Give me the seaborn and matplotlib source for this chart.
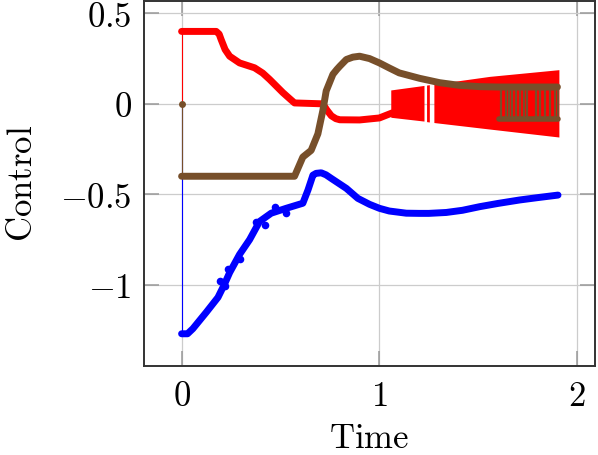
import matplotlib
matplotlib.use("Agg")
import matplotlib.pyplot as plt
import matplotlib.ticker as mticker
import numpy as np
import pandas as pd
import seaborn as sns

# Values
red_t = [0.0, 0.0, 0.175, 0.19, 0.20, 0.22, 0.243, 0.293, 0.369, 0.41, 0.445, 0.512,
         0.55, 0.571, 0.714, 0.735, 0.757, 0.78, 0.80, 0.90, 1.0, 1.065]
red_v = [0.0, 0.40, 0.40, 0.385, 0.355, 0.30, 0.263, 0.226, 0.199, 0.17, 0.135, 0.062,
         0.025, 0.005, 0.0, -0.035, -0.066, -0.082, -0.088, -0.089, -0.078, -0.05]

brown_t = [0.0, 0.0, 0.571, 0.613, 0.655, 0.689, 0.714, 0.731, 0.765, 0.785, 0.80,
           0.833, 0.866, 0.90, 0.95, 1.0, 1.05, 1.10, 1.203, 1.304, 1.405, 1.507,
           1.60, 1.75, 1.90]
brown_v = [0.0, -0.40, -0.40, -0.294, -0.257, -0.166, -0.038, 0.071, 0.163, 0.19,
           0.208, 0.245, 0.258, 0.263, 0.250, 0.226, 0.198, 0.171, 0.141, 0.117,
           0.102, 0.095, 0.093, 0.093, 0.093]

blue_t = [0.0, 0.0, 0.03, 0.057, 0.125, 0.184, 0.217, 0.243, 0.293, 0.344, 0.394,
          0.453, 0.529, 0.613, 0.639, 0.664, 0.68, 0.706, 0.73, 0.757, 0.833,
          0.891, 0.95, 1.0, 1.05, 1.136, 1.2, 1.25, 1.338, 1.42, 1.507, 1.6, 1.709,
          1.8, 1.903]
blue_v = [0.0, -1.27, -1.27, -1.242, -1.151, -1.069, -0.996, -0.932, -0.832, -0.75,
          -0.65, -0.604, -0.577, -0.549, -0.476, -0.394, -0.384, -0.381, -0.392,
          -0.412, -0.467, -0.522, -0.555, -0.577, -0.592, -0.604, -0.605, -0.605,
          -0.600, -0.588, -0.568, -0.55, -0.531, -0.518, -0.504]

# scattered blue samples that stick out of the trail
blue_dot_t = [0.192, 0.217, 0.234, 0.293, 0.378, 0.420, 0.470, 0.529]
blue_dot_v = [-0.978, -1.005, -0.914, -0.859, -0.650, -0.668, -0.568, -0.604]

# red chattering band (outer edges), with two thin gaps
osc_t = [1.06, 1.228, 1.229, 1.241, 1.255, 1.256, 1.278, 1.56, 1.91]
osc_hi = [0.074, 0.099, np.nan, 0.101, 0.103, np.nan, 0.106, 0.149, 0.186]
osc_lo = [-0.077, -0.098, np.nan, -0.101, -0.103, np.nan, -0.106, -0.142, -0.186]

# brown chattering near the end
spike_t = [1.616, 1.638, 1.655, 1.672, 1.692, 1.712, 1.731, 1.748,
           1.793, 1.810, 1.835, 1.860, 1.886, 1.902]
spike_top = 0.093
spike_low = -0.082
low_runs = [(1.605, 1.755), (1.765, 1.905)]

df = pd.concat([
    pd.DataFrame({"t": blue_t, "v": blue_v, "s": "blue"}),
    pd.DataFrame({"t": red_t, "v": red_v, "s": "red"}),
    pd.DataFrame({"t": brown_t, "v": brown_v, "s": "brown"}),
])
colors = {"blue": "#0000ff", "red": "#ff0000", "brown": "#774f2a"}

plt.rcParams["mathtext.fontset"] = "cm"
fig = plt.figure(figsize=(5.98, 4.55), dpi=100)
ax = fig.add_axes([144 / 598, 89 / 455, 451 / 598, 365 / 455])

for s in ["blue", "red", "brown"]:
    d = df[df["s"] == s]
    # thin jump at t=0, then thick marker trail
    sns.lineplot(data=d.iloc[:2], x="t", y="v", color=colors[s], lw=0.8,
                 sort=False, estimator=None, ax=ax)
    sns.lineplot(data=d.iloc[1:], x="t", y="v", color=colors[s], lw=5,
                 sort=False, estimator=None, ax=ax,
                 solid_capstyle="round", solid_joinstyle="round")
    if s == "blue":
        ax.scatter(blue_dot_t, blue_dot_v, s=30, color=colors[s], zorder=3, lw=0)
    if s == "red":
        ax.fill_between(osc_t, osc_lo, osc_hi, color=colors[s], lw=0, zorder=2)
    if s == "brown":
        ax.vlines(spike_t, spike_low, spike_top, color=colors[s], lw=1.6, zorder=3)
        for a, b in low_runs:
            ax.plot([a, b], [spike_low, spike_low], color=colors[s], lw=4,
                    solid_capstyle="round", zorder=3)
# brown dot at the origin
ax.scatter([0], [0], s=25, color=colors["brown"], zorder=4, lw=0)

ax.set_xlim(-0.19, 2.09)
ax.set_ylim(-1.448, 0.568)
ax.xaxis.set_major_locator(mticker.FixedLocator([0, 1, 2]))
ax.xaxis.set_major_formatter(mticker.FixedFormatter(["$0$", "$1$", "$2$"]))
ax.yaxis.set_major_locator(mticker.FixedLocator([-1, -0.5, 0, 0.5]))
ax.yaxis.set_major_formatter(mticker.FixedFormatter(["$-1$", "$-0.5$", "$0$", "$0.5$"]))
ax.grid(True, color="#cccccc", lw=0.9)
ax.set_axisbelow(True)
ax.tick_params(direction="in", length=11, width=1.1, color="#999999",
               top=True, right=True, labelsize=25, pad=9)
for sp in ax.spines.values():
    sp.set_color("#333333")
    sp.set_linewidth(1.4)
ax.set_xlabel(r"$\mathrm{Time}$", fontsize=25, labelpad=6)
ax.set_ylabel(r"$\mathrm{Control}$", fontsize=25, labelpad=15)

fig.savefig("out.png", dpi=100)
